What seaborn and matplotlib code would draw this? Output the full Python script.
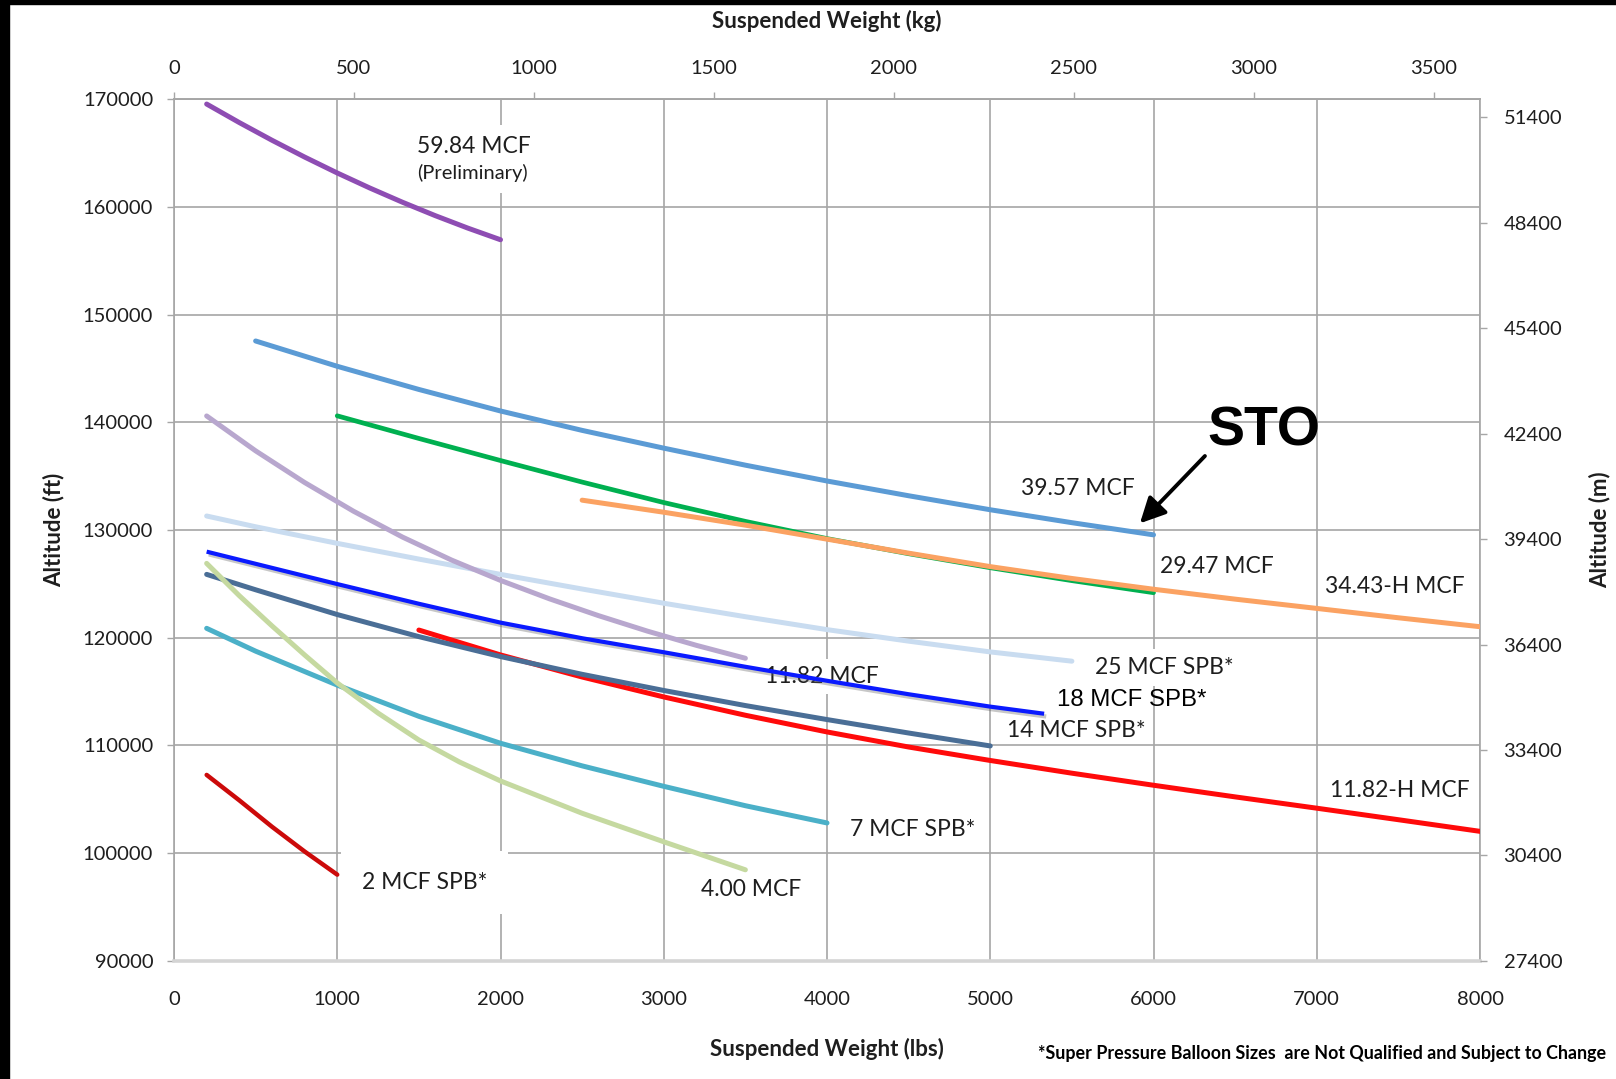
import matplotlib
matplotlib.use("Agg")
import matplotlib.pyplot as plt
import matplotlib.patheffects as pe
from matplotlib.patches import Rectangle
import seaborn as sns

# ---------------- data (Suspended weight lbs -> altitude ft) ----------------
mcf5984_x = [200, 400, 600, 800, 1000, 1200, 1400, 1600, 1800, 2000]
mcf5984_y = [169550, 167830, 166190, 164630, 163150, 161750, 160430, 159190, 158030, 156950]

mcf3957_x = [500, 1000, 1500, 2000, 2500, 3000, 3500, 4000, 4500, 5000, 5500, 6000]
mcf3957_y = [147550, 145200, 143050, 141050, 139250, 137600, 136020, 134550, 133180, 131880, 130680, 129550]

mcf2947_x = [1000, 1500, 2000, 2500, 3000, 3500, 4000, 4500, 5000, 5500, 6000]
mcf2947_y = [140600, 138500, 136450, 134450, 132550, 130800, 129200, 127800, 126500, 125300, 124180]

mcf3443h_x = [2500, 3000, 3500, 4000, 4500, 5000, 5500, 6000, 6500, 7000, 7500, 8000]
mcf3443h_y = [132770, 131650, 130450, 129150, 127850, 126600, 125500, 124500, 123580, 122720, 121850, 121020]

mcf1182_x = [200, 500, 800, 1100, 1400, 1700, 2000, 2300, 2600, 2900, 3200, 3500]
mcf1182_y = [140590, 137350, 134410, 131740, 129340, 127210, 125320, 123610, 122050, 120610, 119290, 118090]

spb25_x = [200, 500, 1000, 1500, 2000, 2500, 3000, 3500, 4000, 4500, 5000, 5500]
spb25_y = [131300, 130300, 128760, 127300, 125880, 124520, 123200, 121950, 120750, 119680, 118680, 117820]

spb18_x = [200, 1000, 1500, 2000, 2500, 3000, 3500, 4000, 4500, 5000, 5330]
spb18_y = [127990, 124980, 123150, 121400, 119950, 118650, 117300, 116000, 114750, 113600, 112940]

spb14_x = [200, 500, 1000, 1500, 2000, 2500, 3000, 3500, 4000, 4500, 5000]
spb14_y = [125880, 124450, 122150, 120100, 118250, 116600, 115100, 113700, 112400, 111150, 109950]

mcf1182h_x = [1500, 2000, 2500, 3000, 3500, 4000, 4500, 5000, 5500, 6000, 6500, 7000, 7500, 8000]
mcf1182h_y = [120710, 118400, 116350, 114500, 112800, 111250, 109850, 108600, 107420, 106300, 105220, 104170, 103100, 102020]

spb7_x = [200, 500, 1000, 1500, 2000, 2500, 3000, 3500, 4000]
spb7_y = [120870, 118750, 115600, 112700, 110200, 108100, 106200, 104400, 102800]

mcf400_x = [200, 400, 600, 800, 1000, 1250, 1500, 1750, 2000, 2500, 3000, 3500]
mcf400_y = [126900, 123900, 121100, 118400, 115800, 113000, 110500, 108450, 106700, 103700, 101050, 98450]

spb2_x = [200, 400, 600, 800, 1000]
spb2_y = [107260, 104900, 102450, 100150, 98000]

lbs_ticks = [0, 1000, 2000, 3000, 4000, 5000, 6000, 7000, 8000]
ft_ticks = [90000, 100000, 110000, 120000, 130000, 140000, 150000, 160000, 170000]
kg_ticks = [0, 500, 1000, 1500, 2000, 2500, 3000, 3500]
m_ticks = [27400, 30400, 33400, 36400, 39400, 42400, 45400, 48400, 51400]

# ---------------- figure ----------------
sns.set_style("white")
plt.rcParams['font.family'] = ['Lato', 'DejaVu Sans']

W, H = 1616, 1079
fig = plt.figure(figsize=(W / 100, H / 100), dpi=100)
L, R, T, B = 174, 1480, 99.2, 960.8
ax = fig.add_axes([L / W, 1 - B / H, (R - L) / W, (B - T) / H])

GRID = '#A6A6A6'
TXT = '#1E1E1E'

ax.set_xlim(0, 8000)
ax.set_ylim(90000, 170000)
ax.set_xticks(lbs_ticks)
ax.set_yticks(ft_ticks)
ax.set_axisbelow(True)
ax.grid(True, color=GRID, lw=1.2)
for s in ['left', 'top', 'right']:
    ax.spines[s].set_color(GRID)
    ax.spines[s].set_linewidth(1.2)
ax.spines['bottom'].set_color('#D4D4D4')
ax.spines['bottom'].set_linewidth(2.6)
ax.tick_params(axis='both', direction='out', length=5, width=1, color=GRID,
               labelsize=14.5, labelcolor=TXT)
ax.tick_params(axis='x', pad=17)
ax.tick_params(axis='y', pad=10)

series = [
    (mcf3957_x, mcf3957_y, '#5B9BD5', 3.6, 3.0),
    (mcf2947_x, mcf2947_y, '#00B050', 3.4, 3.1),
    (mcf3443h_x, mcf3443h_y, '#FBA262', 3.6, 3.2),
    (mcf5984_x, mcf5984_y, '#8E4DB3', 3.6, 3.0),
    (spb25_x, spb25_y, '#C9DCF0', 3.6, 3.0),
    (mcf1182_x, mcf1182_y, '#B8A7CE', 3.6, 3.1),
    (mcf1182h_x, mcf1182h_y, '#FF0A0A', 3.6, 3.2),
    (spb14_x, spb14_y, '#4A6E96', 3.6, 3.3),
    (spb7_x, spb7_y, '#4BB0C8', 3.6, 3.2),
    (mcf400_x, mcf400_y, '#C5D9A0', 3.6, 3.3),
    (spb2_x, spb2_y, '#CC0A0A', 3.2, 3.2),
]
for xs, ys, c, lw, z in series:
    sns.lineplot(x=xs, y=ys, ax=ax, color=c, lw=lw, sort=False, estimator=None,
                 solid_capstyle='round', solid_joinstyle='round', zorder=z)

sns.lineplot(x=spb18_x, y=spb18_y, ax=ax, color='#0A1AFF', lw=3.0, sort=False,
             estimator=None, solid_capstyle='butt', solid_joinstyle='round',
             zorder=3.5,
             path_effects=[pe.SimpleLineShadow(offset=(1.5, -2), alpha=0.35,
                                               shadow_color='#606060'),
                           pe.Normal()])

# ---------------- labels ----------------
box = lambda p: dict(facecolor='white', edgecolor='none', pad=p)
lab = dict(fontsize=16.5, color=TXT, ha='left', va='center', zorder=2.5)
ax.text(1489, 165590, '59.84 MCF', bbox=box(8), **lab)
ax.text(1489, 163150, '(Preliminary)', fontsize=14.5, color=TXT, ha='left',
        va='center', zorder=2.5, bbox=box(8))
ax.text(5186, 133870, '39.57 MCF', **lab)
ax.text(6040, 126590, '29.47 MCF', **lab)
ax.text(7051, 124740, '34.43-H MCF', **lab)
ax.text(5642, 117250, '25 MCF SPB*', bbox=box(6), **lab)
ax.text(5411, 114220, '18 MCF SPB*', fontsize=17.3, color='black', ha='left',
        va='center', zorder=2.6, family=['Liberation Sans', 'DejaVu Sans'])
ax.text(5103, 111370, '14 MCF SPB*', **lab)
ax.text(3622, 116380, '11.82 MCF', bbox=box(5), **lab)
ax.text(7084, 105810, '11.82-H MCF', **lab)
ax.text(4138, 102150, '7 MCF SPB*', **lab)
ax.text(3231, 96580, '4.00 MCF', **lab)
ax.text(1150, 97250, '2 MCF SPB*', bbox=box(15), **lab)

ax.text(6677, 139100, 'STO', fontsize=40, fontweight='bold', color='black',
        ha='center', va='center', zorder=5,
        family=['Liberation Sans', 'DejaVu Sans'])
ax.annotate('', xy=(5917, 130620), xytext=(6315, 136870),
            arrowprops=dict(arrowstyle='-|>,head_length=0.7,head_width=0.35',
                            lw=2.8, color='black', shrinkA=0, shrinkB=0,
                            mutation_scale=22), zorder=5)

ax.set_xlabel('Suspended Weight (lbs)', fontsize=16, fontweight='bold',
              color=TXT, labelpad=21)
ax.set_ylabel('Altitude (ft)', fontsize=16, fontweight='bold', color=TXT,
              labelpad=13)

# top kg axis
sec = ax.secondary_xaxis('top', functions=(lambda x: x / 2.20462,
                                            lambda x: x * 2.20462))
sec.set_xticks(kg_ticks)
sec.tick_params(direction='out', length=5, width=1, color=GRID, labelsize=14.5,
                labelcolor=TXT, pad=11)
sec.spines['top'].set_color(GRID)
sec.spines['top'].set_linewidth(1.2)
sec.set_xlabel('Suspended Weight (kg)', fontsize=16, fontweight='bold',
               color=TXT, labelpad=23)

# right m axis
ax2 = ax.twinx()
ax2.set_ylim(27400, 51920)
ax2.set_yticks(m_ticks)
ax2.grid(False)
for s in ax2.spines.values():
    s.set_visible(False)
ax2.tick_params(axis='y', direction='out', length=5, width=1, color=GRID,
                labelsize=14.5, labelcolor=TXT, pad=12)
ax2.set_ylabel('Altitude (m)', fontsize=16, fontweight='bold', color=TXT,
               labelpad=19)

fig.text(1606 / W, 1 - 1054 / H,
         '*Super Pressure Balloon Sizes  are Not Qualified and Subject to Change',
         ha='right', va='center', fontsize=12.9, fontweight='bold', color='black')

# black frame edges of the slide
fig.patches.append(Rectangle((0, 0), 9 / W, 1, transform=fig.transFigure,
                             color='black', zorder=10))
fig.patches.append(Rectangle((0, 1 - 3.5 / H), 1, 3.5 / H,
                             transform=fig.transFigure, color='black', zorder=10))

fig.savefig('out.png', dpi=100)
